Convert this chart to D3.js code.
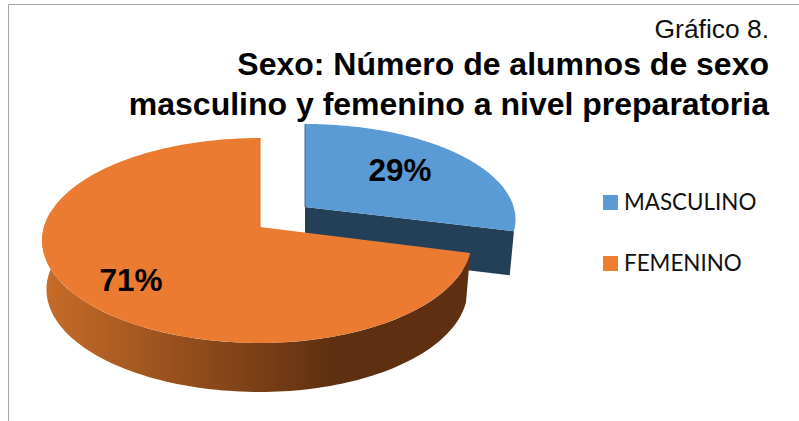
<!DOCTYPE html>
<html>
<head>
<meta charset="utf-8">
<script src="https://cdn.jsdelivr.net/npm/d3@7"></script>
<style>
  html, body { margin: 0; padding: 0; background: #fff; overflow: hidden; }
  svg { display: block; }
</style>
</head>
<body>
<svg id="chart"></svg>
<script>
const categories = ['MASCULINO', 'FEMENINO'];
const values = [29, 71];
const pctLabels = ['29%', '71%'];
const topColors = ['#5b9bd5', '#ea7b30'];
const legendColors = ['#5b9bd5', '#ed7d31'];
const titleLines = ['Sexo: Número de alumnos de sexo', 'masculino y femenino a nivel preparatoria'];

const W = 799, H = 421;
const svg = d3.select('#chart').attr('width', W).attr('height', H);

// frame
svg.append('path').attr('d', `M8.5,${H}V4.5H${W}`)
  .attr('fill', 'none').attr('stroke', '#a6a6a6');

// gradient of the rim
const grad = svg.append('defs').append('linearGradient')
  .attr('id', 'rim').attr('gradientUnits', 'userSpaceOnUse')
  .attr('x1', 48).attr('x2', 335).attr('y1', 0).attr('y2', 0);
grad.append('stop').attr('offset', 0).attr('stop-color', '#c66b28');
grad.append('stop').attr('offset', 1).attr('stop-color', '#5e2f10');

// tilted disc, a bit of perspective so the apex sits above the ellipse centre
const cx = 260, cy = 227, X = 216, Y = 100.7, k = 0.1316;
function project(a, r = 1) {
  const u = Math.sin(a) * r, v = -Math.cos(a) * r;
  const w = 1 - k * v;
  return [X * u / w, Y * v / w];
}

const arcs = d3.pie().sort(null).value(d => d)(values);
const line = d3.line();
const steps = (a0, a1) => d3.range(0, 121).map(i => a0 + (a1 - a0) * i / 120);

// blue slice is pulled out and sits further back
const blue = { ox: 305, oy: 207, sx: 0.966, sxR: 0.966, sy: 0.933, depth: 44, bx: 0.98 };
const orange = { ox: cx, oy: cy, sx: 1, sxR: 0.972, sy: 1, depth: 49, bx: 0.98 };

function sxOf(p, s) { return p[0] > 0 ? s.sxR : s.sx; }
function topPt(p, s) { return [s.ox + p[0] * sxOf(p, s), s.oy + p[1] * s.sy]; }
function botPt(p, s) { return [s.ox + p[0] * sxOf(p, s) * s.bx, s.oy + p[1] * s.sy + s.depth]; }

// blue side wall
const bEnd = project(arcs[0].endAngle);
svg.append('path')
  .attr('d', line([topPt([0, 0], blue), topPt(bEnd, blue), botPt(bEnd, blue), botPt([0, 0], blue)]) + 'Z')
  .attr('fill', '#243f58');

// blue top
const bluePts = [[0, 0]].concat(steps(arcs[0].startAngle, arcs[0].endAngle).map(a => project(a)));
svg.append('path')
  .attr('d', line(bluePts.map(p => topPt(p, blue))) + 'Z')
  .attr('fill', topColors[0]);
svg.append('path')
  .attr('d', line([topPt([0, 0], blue), topPt(project(0), blue)]))
  .attr('stroke', '#3c6a94').attr('stroke-width', 1).attr('fill', 'none');

// orange rim
const rimPts = steps(arcs[1].startAngle, Math.PI * 1.55).map(a => project(a));
svg.append('path')
  .attr('d', line(rimPts.map(p => topPt(p, orange)).concat(rimPts.slice().reverse().map(p => botPt(p, orange)))) + 'Z')
  .attr('fill', 'url(#rim)');

// orange top
const orangePts = [[0, 0]].concat(steps(arcs[1].startAngle, arcs[1].endAngle).map(a => project(a)));
svg.append('path')
  .attr('d', line(orangePts.map(p => topPt(p, orange))) + 'Z')
  .attr('fill', topColors[1]);
svg.append('path')
  .attr('d', line([topPt([0, 0], orange), topPt(project(0), orange)]))
  .attr('stroke', '#cf6f2c').attr('stroke-width', 1).attr('fill', 'none');

// percent labels
svg.selectAll('text.pct').data(pctLabels).enter().append('text')
  .attr('class', 'pct')
  .attr('x', (_, i) => [400, 131][i])
  .attr('y', (_, i) => [181, 291][i])
  .attr('text-anchor', 'middle')
  .attr('font-family', 'Liberation Sans')
  .attr('font-weight', 'bold')
  .attr('font-size', 31.5)
  .attr('fill', '#000')
  .text(d => d);

// titles
svg.append('text')
  .attr('x', 769).attr('y', 38).attr('text-anchor', 'end')
  .attr('font-family', 'Liberation Sans').attr('font-size', 26.4)
  .attr('fill', '#111').text('Gráfico 8.');
svg.selectAll('text.title').data(titleLines).enter().append('text')
  .attr('class', 'title')
  .attr('x', 769).attr('y', (_, i) => 75 + i * 40).attr('text-anchor', 'end')
  .attr('font-family', 'Liberation Sans').attr('font-weight', 'bold').attr('font-size', 32)
  .attr('fill', '#000').text(d => d);

// legend
const legend = svg.selectAll('g.leg').data(categories).enter().append('g')
  .attr('class', 'leg')
  .attr('transform', (_, i) => `translate(603,${195 + i * 61})`);
legend.append('rect').attr('width', 15).attr('height', 15)
  .attr('fill', (_, i) => legendColors[i]);
legend.append('text')
  .attr('x', 21).attr('y', 15)
  .attr('font-family', 'Lato').attr('font-size', 22.4)
  .attr('fill', '#111').text(d => d);
</script>
</body>
</html>
